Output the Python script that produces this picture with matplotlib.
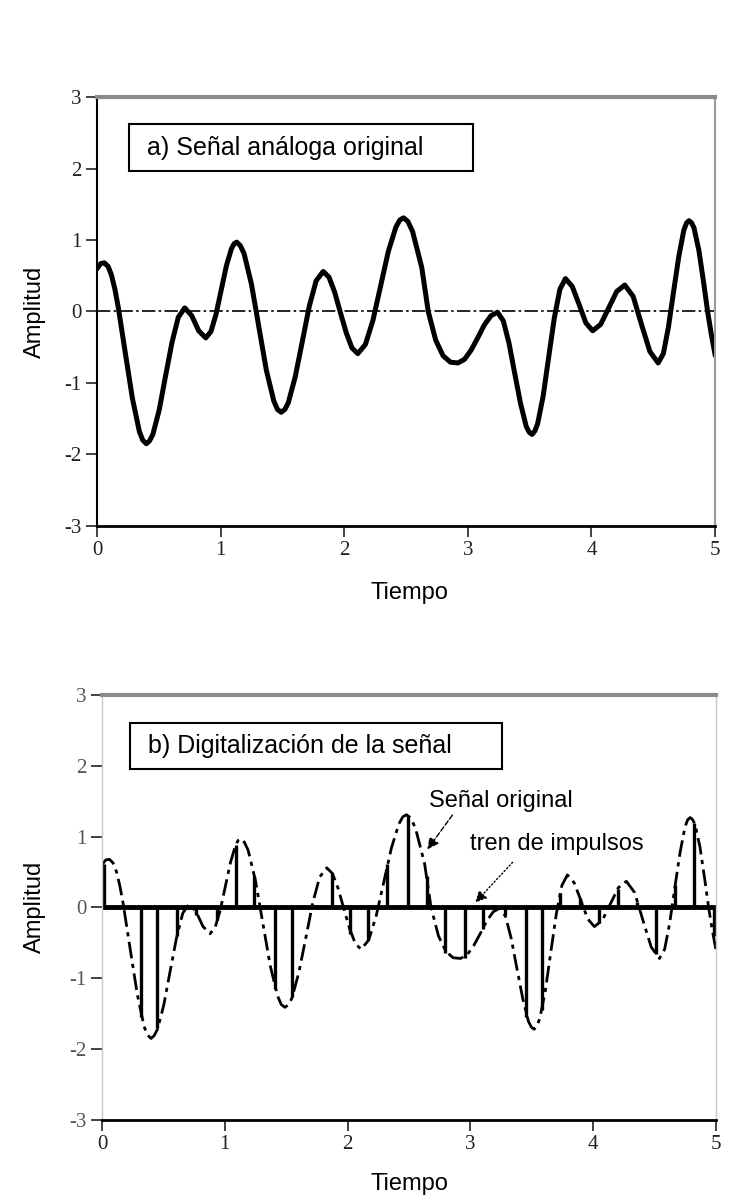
import matplotlib
matplotlib.use("Agg")
from matplotlib import pyplot as plt
from matplotlib.patches import Rectangle

# señal analógica
t_senal = [0.00, 0.03, 0.06, 0.09, 0.117, 0.145, 0.173, 0.23, 0.287, 0.343,
           0.37, 0.40, 0.425, 0.452, 0.503, 0.555, 0.607, 0.658, 0.71,
           0.767, 0.823, 0.88, 0.922, 0.963, 1.005, 1.047, 1.088, 1.11,
           1.13, 1.16, 1.19, 1.25, 1.31, 1.37, 1.43, 1.46, 1.49, 1.52,
           1.547, 1.603, 1.66, 1.717, 1.773, 1.83, 1.877, 1.923, 1.97,
           2.017, 2.063, 2.11, 2.172, 2.233, 2.295, 2.357, 2.418, 2.45,
           2.48, 2.515, 2.553, 2.627, 2.68, 2.74, 2.80, 2.86, 2.92, 2.973,
           3.027, 3.08, 3.133, 3.187, 3.24, 3.287, 3.333, 3.38, 3.427,
           3.473, 3.497, 3.52, 3.543, 3.565, 3.61, 3.655, 3.70, 3.745,
           3.79, 3.845, 3.90, 3.955, 4.01, 4.075, 4.14, 4.205, 4.27, 4.338,
           4.405, 4.473, 4.54, 4.582, 4.623, 4.665, 4.707, 4.748, 4.77,
           4.79, 4.81, 4.83, 4.87, 4.91, 4.94, 4.97, 5.00]
v_senal = [0.60, 0.67, 0.68, 0.63, 0.51, 0.31, 0.05, -0.59, -1.22, -1.68,
           -1.80, -1.85, -1.81, -1.72, -1.38, -0.90, -0.43, -0.08, 0.05,
           -0.06, -0.27, -0.37, -0.28, -0.04, 0.30, 0.64, 0.88, 0.95,
           0.97, 0.92, 0.81, 0.38, -0.22, -0.82, -1.25, -1.37, -1.41, -1.37,
           -1.28, -0.92, -0.43, 0.07, 0.43, 0.56, 0.48, 0.27, -0.02,
           -0.30, -0.51, -0.59, -0.46, -0.12, 0.36, 0.84, 1.18, 1.28,
           1.31, 1.26, 1.12, 0.62, 0.00, -0.40, -0.62, -0.71, -0.72, -0.67,
           -0.54, -0.37, -0.19, -0.06, -0.01, -0.13, -0.44, -0.87, -1.29,
           -1.61, -1.69, -1.72, -1.67, -1.57, -1.18, -0.63, -0.09, 0.31,
           0.46, 0.35, 0.10, -0.16, -0.27, -0.18, 0.05, 0.28, 0.37, 0.21,
           -0.18, -0.56, -0.72, -0.59, -0.22, 0.28, 0.77, 1.14, 1.24,
           1.27, 1.24, 1.17, 0.85, 0.38, 0.00, -0.32, -0.60]

# tren de impulsos (muestras)
t_muestras = [0.016, 0.17, 0.316, 0.452, 0.61, 0.765, 0.94, 1.09, 1.24, 1.405,
              1.55, 1.71, 1.87, 2.02, 2.17, 2.32, 2.49, 2.645, 2.79, 2.96,
              3.10, 3.28, 3.45, 3.58, 3.73, 3.89, 4.05, 4.20, 4.36, 4.51,
              4.67, 4.82, 4.98]
v_muestras = [0.62, 0.05, -1.55, -1.70, -0.40, -0.10, -0.18, 0.88, 0.45, -1.15,
              -1.27, 0.02, 0.49, -0.38, -0.46, 0.62, 1.30, 0.45, -0.64, -0.72,
              -0.30, -0.10, -1.55, -1.45, 0.20, 0.14, -0.22, 0.26, 0.08, -0.66,
              0.32, 1.19, -0.40]

xticks = [0, 1, 2, 3, 4, 5]
yticks = [-3, -2, -1, 0, 1, 2, 3]
ytick_labels = ["-3", "-2", "-1", "0", "1", "2", "3"]

SANS = "Liberation Sans"
SERIF = "Liberation Serif"


def estilo_ejes(ax, izq_color, izq_lw):
    ax.set_xlim(0, 5)
    ax.set_ylim(-3, 3)
    ax.set_xticks(xticks)
    ax.set_yticks(yticks)
    ax.set_xticklabels([str(x) for x in xticks], family=SERIF, fontsize=15)
    ax.set_yticklabels(ytick_labels, family=SERIF, fontsize=15)
    ax.tick_params(direction="out", length=8, width=1.2, pad=3, colors="#222222")
    ax.spines["top"].set_color("#8a8a8a")
    ax.spines["top"].set_linewidth(3)
    ax.spines["bottom"].set_color("black")
    ax.spines["bottom"].set_linewidth(2)
    ax.spines["left"].set_color(izq_color)
    ax.spines["left"].set_linewidth(izq_lw)
    ax.patch.set_alpha(0)


def draw_graph():
    fig = plt.figure(figsize=(7.32, 12.01), dpi=100)

    # a) señal análoga
    ax1 = fig.add_axes([0.1325, 0.5621, 0.8443, 0.3571])
    estilo_ejes(ax1, "black", 1.5)
    ax1.spines["right"].set_color("#9a9a9a")
    ax1.spines["right"].set_linewidth(1.5)
    ax1.plot([0, 5], [0, 0], color="black", lw=1.2, ls=(0, (8, 2, 1.5, 2)))
    ax1.plot(t_senal, v_senal, color="black", lw=3.6, solid_joinstyle="round")
    ax1.add_patch(Rectangle((0.052, 0.8275), 0.556, 0.1096, transform=ax1.transAxes,
                            facecolor="white", edgecolor="black", lw=1.5, zorder=3))
    ax1.text(0.081, 0.882, "a) Señal análoga original", transform=ax1.transAxes,
             family=SANS, fontsize=18, va="center", ha="left", zorder=4)

    # b) digitalización
    ax2 = fig.add_axes([0.1393, 0.0675, 0.8388, 0.3538])
    estilo_ejes(ax2, "#c8c8c8", 1.0)
    ax2.spines["right"].set_color("#c8c8c8")
    ax2.spines["right"].set_linewidth(1.0)
    for lab in ax2.get_yticklabels():
        lab.set_color("#555555")
    ax2.plot(t_senal, v_senal, color="black", lw=2.0, ls=(0, (6, 2, 1.5, 2)))
    ax2.vlines(t_muestras, 0, v_muestras, color="black", lw=2.4)
    ax2.plot([0, 5], [0, 0], color="black", lw=3.5)
    ax2.add_patch(Rectangle((0.0456, 0.826), 0.606, 0.108, transform=ax2.transAxes,
                            facecolor="white", edgecolor="black", lw=1.5, zorder=3))
    ax2.text(0.075, 0.88, "b) Digitalización de la señal", transform=ax2.transAxes,
             family=SANS, fontsize=18, va="center", ha="left", zorder=4)

    ax2.annotate("Señal original", xy=(2.65, 0.82), xytext=(2.66, 1.50),
                 family=SANS, fontsize=17, va="center", ha="left",
                 arrowprops=dict(arrowstyle="-|>", color="black", lw=1.0, ls="--",
                                 shrinkA=0, shrinkB=0,
                                 relpos=(0.18, 0.0)))
    ax2.annotate("tren de impulsos", xy=(3.04, 0.07), xytext=(3.0, 0.89),
                 family=SANS, fontsize=17, va="center", ha="left",
                 arrowprops=dict(arrowstyle="-|>", color="black", lw=1.0, ls=":",
                                 shrinkA=4, shrinkB=0,
                                 relpos=(0.28, 0.0)))

    # etiquetas de ejes
    fig.text(0.048, 0.740, "Amplitud", rotation=90, family=SANS, fontsize=17,
             ha="center", va="center")
    fig.text(0.048, 0.245, "Amplitud", rotation=90, family=SANS, fontsize=17,
             ha="center", va="center")
    fig.text(0.560, 0.506, "Tiempo", family=SANS, fontsize=17, ha="center", va="center")
    fig.text(0.560, 0.0145, "Tiempo", family=SANS, fontsize=17, ha="center", va="center")

    fig.savefig("out.png", dpi=100, facecolor="white")


if __name__ == "__main__":
    draw_graph()
